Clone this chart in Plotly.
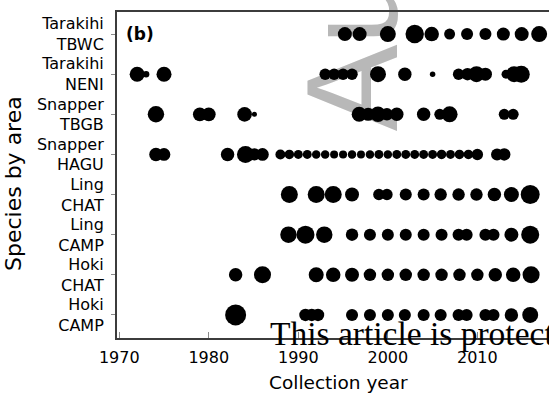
import plotly.graph_objects as go

# Stocks, bottom to top on the y axis
species = ["Hoki", "Hoki", "Ling", "Ling", "Snapper", "Snapper", "Tarakihi", "Tarakihi"]
areas = ["CAMP", "CHAT", "CAMP", "CHAT", "HAGU", "TBGB", "NENI", "TBWC"]

# Collection year of each otolith sample and number of fish aged in it
hoki_camp_year = [1983.0, 1990.8, 1991.5, 1992.2, 1996.0, 1998.0, 2000.0, 2001.9, 2004.0,
                  2005.9, 2007.9, 2008.8, 2010.9, 2011.8, 2013.8, 2015.9]
hoki_camp_n = [440, 155, 155, 155, 145, 145, 145, 145, 145, 145, 145, 145, 145, 145, 180, 255]

hoki_chat_year = [1983.0, 1986.0, 1992.0, 1993.9, 1996.0, 1998.0, 2000.0, 2002.0, 2004.0,
                  2006.0, 2008.0, 2010.0, 2012.0, 2014.0, 2016.0]
hoki_chat_n = [180, 290, 225, 210, 195, 155, 155, 155, 155, 155, 155, 155, 180, 210, 290]

ling_camp_year = [1988.9, 1990.8, 1992.9, 1996.0, 1998.0, 2000.0, 2002.0, 2004.0, 2006.0,
                  2007.9, 2008.8, 2010.9, 2011.8, 2013.8, 2015.9]
ling_camp_n = [270, 325, 270, 155, 145, 145, 145, 145, 145, 145, 145, 145, 145, 195, 325]

ling_chat_year = [1989.0, 1992.0, 1993.9, 1996.0, 1999.0, 1999.9, 2002.0, 2004.0, 2005.9,
                  2007.9, 2009.9, 2011.9, 2013.8, 2015.9]
ling_chat_n = [290, 290, 290, 195, 130, 130, 145, 145, 155, 155, 155, 180, 225, 360]

snapper_hagu_year = [1974.1, 1975.0, 1982.1, 1984.1, 1985.1, 1986.0,
                     1988, 1989, 1990, 1991, 1992, 1993, 1994, 1995, 1996, 1997, 1998, 1999,
                     2000, 2001, 2002, 2003, 2004, 2005, 2006, 2007, 2008, 2009, 2010,
                     2012.2, 2013.0]
snapper_hagu_n = [180, 160, 180, 290, 150, 160,
                  100, 90, 80, 80, 72, 72, 64, 64, 72, 64, 72, 80,
                  72, 80, 80, 80, 80, 80, 90, 80, 90, 90, 130,
                  145, 155]

snapper_tbgb_year = [1974.1, 1979.0, 1980.0, 1984.0, 1985.1, 1996.8, 1997.8, 1998.9, 1999.9,
                     2001.0, 2004.0, 2005.8, 2006.9, 2013.0, 2014.0]
snapper_tbgb_n = [270, 190, 190, 215, 25, 225, 170, 240, 155, 180, 180, 120, 255, 120, 120]

tarakihi_neni_year = [1972.0, 1973.0, 1975.0, 1993.0, 1994.0, 1995.0, 1996.0, 1998.9, 2001.9,
                      2005.0, 2007.9, 2008.9, 2009.9, 2010.9, 2013.2, 2014.1, 2014.9]
tarakihi_neni_n = [225, 42, 225, 130, 130, 130, 130, 255, 180, 30, 130, 155, 255, 170, 80,
                   255, 290]

tarakihi_tbwc_year = [1995.2, 1996.85, 2000.0, 2003.0, 2004.9, 2006.9, 2008.85, 2010.9,
                      2012.9, 2014.95, 2016.9]
tarakihi_tbwc_n = [195, 195, 255, 340, 210, 120, 145, 145, 170, 195, 255]

years = [hoki_camp_year, hoki_chat_year, ling_camp_year, ling_chat_year,
         snapper_hagu_year, snapper_tbgb_year, tarakihi_neni_year, tarakihi_tbwc_year]
counts = [hoki_camp_n, hoki_chat_n, ling_camp_n, ling_chat_n,
          snapper_hagu_n, snapper_tbgb_n, tarakihi_neni_n, tarakihi_tbwc_n]

stock_labels = [f"{s}<br>{a}" for s, a in zip(species, areas)]
year_ticks = [1970, 1980, 1990, 2000, 2010]

FONT = "DejaVu Sans"
AXIS = "#3c3c3c"

fig = go.Figure()
for label, yr, n in zip(stock_labels, years, counts):
    fig.add_trace(go.Scatter(
        x=yr, y=[label] * len(yr), mode="markers",
        marker=dict(size=n, sizemode="area", sizeref=2, color="black", opacity=1,
                    line=dict(width=0)),
        showlegend=False, hoverinfo="x+y",
    ))

# Manuscript watermark, kept underneath the sample dots
fig.add_shape(
    type="rect", xref="paper", yref="paper",
    x0=0.5062, x1=0.5262, y0=2.2418, y1=2.2618,
    line=dict(width=0), fillcolor="rgba(0,0,0,0)", layer="below",
    label=dict(text="Author Manuscript", textposition="middle center", textangle=-90,
               font=dict(family="Liberation Sans", size=130, color="#b8b8b8")),
)

fig.add_annotation(text="<b>(b)</b>", xref="paper", yref="paper", x=0.016, y=0.932,
                   xanchor="left", yanchor="middle", showarrow=False,
                   font=dict(family=FONT, size=17, color="black"))
fig.add_annotation(text="This article is protected by copyright. All rights reserved",
                   xref="paper", yref="paper", x=0.35, y=-0.048,
                   xanchor="left", yanchor="bottom", showarrow=False,
                   font=dict(family="Liberation Serif", size=33.5, color="black"))

# Axis titles
fig.add_annotation(text="Collection year", xref="paper", yref="paper", x=0.5116, y=-0.1374,
                   xanchor="center", yanchor="middle", showarrow=False,
                   font=dict(family=FONT, size=18.5, color="black"))
fig.add_annotation(text="Species by area", xref="paper", yref="paper", x=-0.2384, y=0.4724,
                   xanchor="center", yanchor="middle", textangle=-90, showarrow=False,
                   font=dict(family=FONT, size=22, color="black"))

fig.update_layout(
    width=549, height=394,
    margin=dict(l=117, r=0, t=12, b=56),
    paper_bgcolor="white", plot_bgcolor="white",
    font=dict(family=FONT, color="black"),
    xaxis=dict(
        range=[1969.75, 2018.0], tickvals=year_ticks, ticks="inside", ticklen=6,
        tickwidth=1, tickcolor="#8a8a8a", showline=True, linewidth=2, linecolor=AXIS,
        mirror=True, showgrid=False, zeroline=False, ticklabelstandoff=4,
        tickfont=dict(family=FONT, size=16, color="black"),
    ),
    yaxis=dict(
        type="category", categoryorder="array", categoryarray=stock_labels,
        range=[-0.575, 7.55], ticks="outside", ticklen=4, tickwidth=1,
        tickcolor="#8a8a8a", showline=True, linewidth=2, linecolor=AXIS,
        showgrid=False, zeroline=False, ticklabelstandoff=4,
        tickfont=dict(family=FONT, size=16, color="black"),
    ),
)

fig.write_html("out.html")
